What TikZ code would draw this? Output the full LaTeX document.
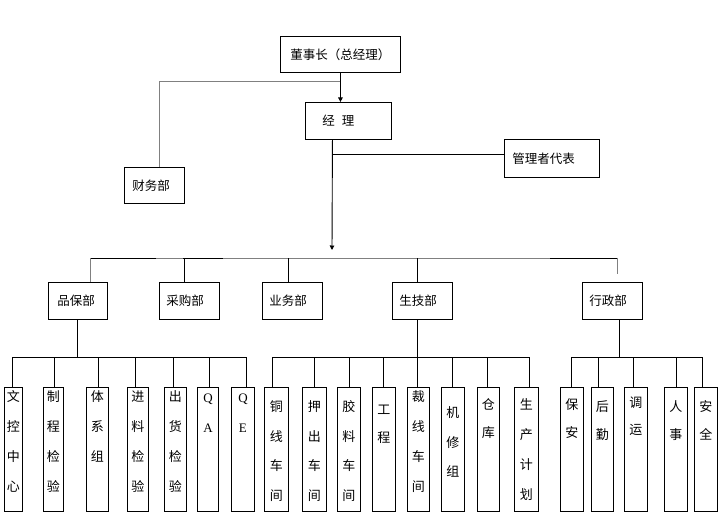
\documentclass[tikz,border=0pt]{standalone}
\usepackage{fontspec}
\setmainfont{Liberation Serif}
\newfontfamily\cjk{Noto Sans CJK SC}
\usetikzlibrary{arrows.meta,calc}
\newcommand\vchars[4]{%
  \foreach \c [count=\i from 0] in {#4}{%
    \node[vch] (#1-\i) at ($(#1.north)+(0,#2+\i*#3)$) {\c};
  }}
\begin{document}
\begin{tikzpicture}[x=1pt,y=-1pt,line width=0.9pt,
  box/.style={draw,anchor=north west,inner ysep=0pt,align=left,
    font=\cjk\fontsize{12.5}{15}\selectfont},
  vb/.style={draw,anchor=north west,inner sep=0pt,minimum height=124pt},
  vch/.style={inner sep=0pt,text height=11pt,text depth=1.5pt,
    font=\cjk\fontsize{13}{15}\selectfont},
  gr/.style={draw=black!50},
  arr/.style={-{Triangle[length=4.5pt,width=4.5pt]}}]
\useasboundingbox (0,0) rectangle (722,516);

% upper boxes
\node[box,minimum height=36pt,text width=106pt,inner xsep=7pt,align=center] (ceo) at (280,36) {董事长（总经理）};
\node[box,minimum height=37pt,text width=52pt,inner xsep=17pt] (mgr) at (305,102) {经\hspace{7pt}理};
\node[box,minimum height=36pt,text width=44pt,inner xsep=8pt] (cw) at (124,167) {财务部};
\node[box,minimum height=38pt,text width=79pt,inner xsep=8pt] (rep) at (504,139) {管理者代表};

% departments
\node[box,minimum height=37pt,text width=41pt,inner xsep=9pt] (pb) at (48,282) {品保部};
\node[box,minimum height=37pt,text width=46pt,inner xsep=7pt] (cg) at (159,282) {采购部};
\node[box,minimum height=37pt,text width=46pt,inner xsep=7pt] (yw) at (262,282) {业务部};
\node[box,minimum height=37pt,text width=46pt,inner xsep=7pt] (sj) at (392,282) {生技部};
\node[box,minimum height=37pt,text width=46pt,inner xsep=7pt] (xz) at (582,282) {行政部};

% sections
\node[vb,minimum width=18pt] (b1) at (4,387) {};
\node[vb,minimum width=20pt] (b2) at (43,387) {};
\node[vb,minimum width=22pt] (b3) at (86,387) {};
\node[vb,minimum width=21pt] (b4) at (127,387) {};
\node[vb,minimum width=22pt] (b5) at (164,387) {};
\node[vb,minimum width=21pt] (b6) at (197,387) {};
\node[vb,minimum width=23pt] (b7) at (231,387) {};
\node[vb,minimum width=24pt] (c1) at (264,387) {};
\node[vb,minimum width=24pt] (c2) at (302,387) {};
\node[vb,minimum width=23pt] (c3) at (337,387) {};
\node[vb,minimum width=23pt] (c4) at (372,387) {};
\node[vb,minimum width=22pt] (c5) at (407,387) {};
\node[vb,minimum width=23pt] (c6) at (441,387) {};
\node[vb,minimum width=22pt] (c7) at (477,387) {};
\node[vb,minimum width=24pt] (c8) at (514,387) {};
\node[vb,minimum width=23pt] (d1) at (560,387) {};
\node[vb,minimum width=22pt] (d2) at (591,387) {};
\node[vb,minimum width=23pt] (d3) at (624,387) {};
\node[vb,minimum width=23pt] (d4) at (664,387) {};
\node[vb,minimum width=23pt] (d5) at (694,387) {};

\vchars{b1}{10}{30}{文,控,中,心}
\vchars{b2}{10}{30}{制,程,检,验}
\vchars{b3}{10}{30}{体,系,组}
\vchars{b4}{10}{30}{进,料,检,验}
\vchars{b5}{10}{30}{出,货,检,验}
\vchars{b6}{11}{30}{\rmfamily Q,\rmfamily A}
\vchars{b7}{11}{30}{\rmfamily Q,\rmfamily E}
\vchars{c1}{20}{29.5}{铜,线,车,间}
\vchars{c2}{20}{29.5}{押,出,车,间}
\vchars{c3}{20}{29.5}{胶,料,车,间}
\vchars{c4}{23}{28}{工,程}
\vchars{c5}{10}{30}{裁,线,车,间}
\vchars{c6}{26}{29.5}{机,修,组}
\vchars{c7}{18}{28}{仓,库}
\vchars{c8}{18}{30}{生,产,计,划}
\vchars{d1}{18}{28}{保,安}
\vchars{d2}{20}{28}{后,勤}
\vchars{d3}{16}{27}{调,运}
\vchars{d4}{20}{28}{人,事}
\vchars{d5}{20}{28}{安,全}

% top connectors
\draw[arr] (ceo.south) -- (ceo.south |- mgr.north);
\coordinate (j1) at (340,81);
\draw[gr] (j1) -| ([xshift=5pt]cw.north);
\coordinate (m1) at ([xshift=-16pt]mgr.south);
\coordinate (m2) at (332,250);
\draw[arr] (m1) -- (m2);
\coordinate (m3) at (332,154);
\draw (m3) -- (m3 -| rep.west);

% main bus
\coordinate (bL) at (90,258);
\coordinate (s1) at (156,258);
\coordinate (s2) at (183,258);
\coordinate (s3) at (223,258);
\coordinate (s4) at (550,258);
\coordinate (bR) at (617,258);
\coordinate (bR2) at (617,274);
\draw (bL) -- (s1);
\draw[gr] (s1) -- (s2);
\draw (s2) -- (s3);
\draw[gr] (s3) -- (s4);
\draw (s4) -- (bR);
\draw[gr] (bR) -- (bR2);
\draw[gr] (bL) -- (bL |- pb.north);
\draw ([xshift=-5pt]cg.north) -- ([xshift=-5pt]cg.north |- bL);
\draw ([xshift=-4pt]yw.north) -- ([xshift=-4pt]yw.north |- bL);
\draw ([xshift=-5pt]sj.north) -- ([xshift=-5pt]sj.north |- bL);

% sub buses
\coordinate (p0) at (12,357);
\coordinate (p1) at (246,357);
\coordinate (q0) at (272,357);
\coordinate (q1) at (529,357);
\coordinate (r0) at (571,357);
\coordinate (r1) at (702,357);
\draw (p0) -- (p1);
\draw (q0) -- (q1);
\draw (r0) -- (r1);
\draw ([xshift=-0.5pt]pb.south) -- ([xshift=-0.5pt]pb.south |- p0);
\draw ([xshift=-5pt]sj.south) -- ([xshift=-5pt]sj.south |- c5.north);
\draw ([xshift=7pt]xz.south) -- ([xshift=7pt]xz.south |- r0);

\foreach \x/\b in {12/b1,54/b2,98/b3,135/b4,173/b5,209/b6,246/b7,
                   272/c1,314/c2,349/c3,383/c4,452/c6,487/c7,529/c8,
                   571/d1,598/d2,633/d3,676/d4,702/d5}{
  \coordinate (t) at (\x,357);
  \draw (t) -- (t |- \b.north);
}
\end{tikzpicture}
\end{document}
